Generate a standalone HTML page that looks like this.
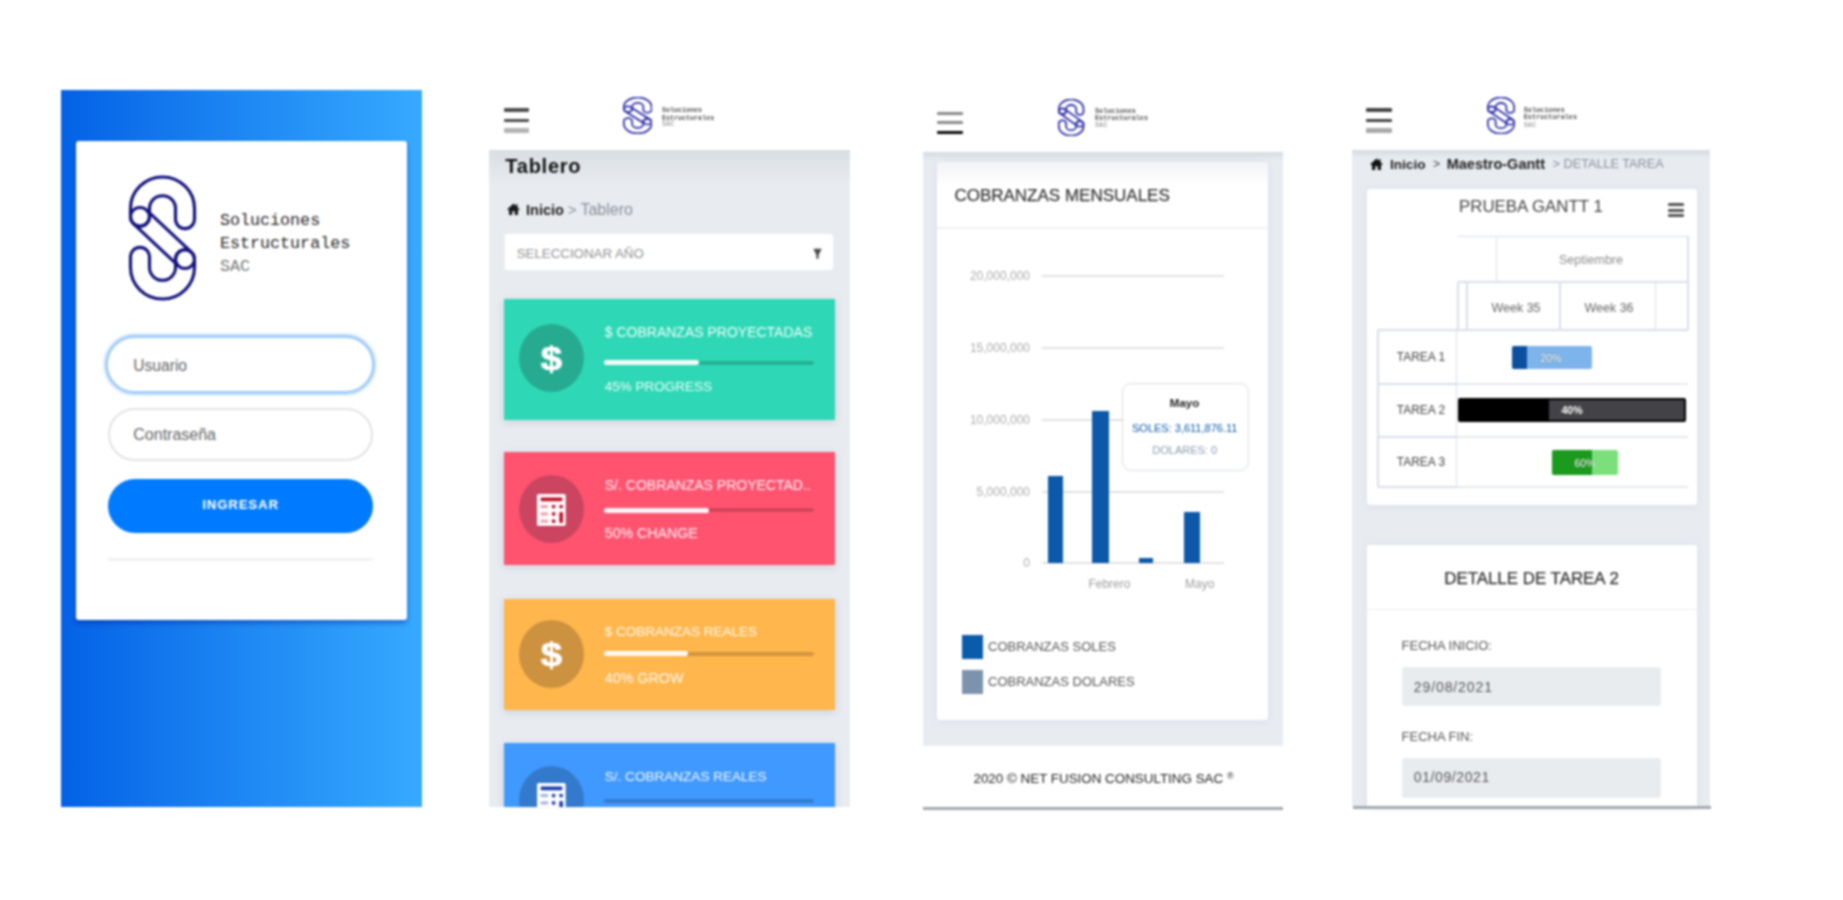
<!DOCTYPE html>
<html lang="es">
<head>
<meta charset="utf-8">
<title>Soluciones Estructurales SAC</title>
<style>
*{box-sizing:border-box;margin:0;padding:0}
html,body{width:1843px;height:900px;background:#fff;overflow:hidden}
body{position:relative;font-family:"Liberation Sans",Arial,sans-serif;color:#333}
#stage{position:absolute;left:0;top:0;width:1843px;height:900px;filter:blur(1px)}
.a{position:absolute}
.t{position:absolute;white-space:nowrap;line-height:1}
.mono{font-family:"Liberation Mono","DejaVu Sans Mono",monospace}
.sm{font-weight:bold}

/* phone 1 */
#p1{left:61px;top:90px;width:360.6px;height:716.8px;background:linear-gradient(90deg,#0461e6 0%,#1d87f3 50%,#37aaff 100%)}
#p1card{left:14.5px;top:50.5px;width:331px;height:479px;background:#fff;border-radius:3px;box-shadow:0 3px 5px rgba(0,30,140,.45)}
.pill{position:absolute;border-radius:40px;background:#fff}
/* dashboards */
.gray{background:#e8ecf1}
.hb{position:absolute;height:4px;border-radius:1px}
.card{position:absolute;left:504.2px;width:330.8px;box-shadow:0 2px 8px rgba(80,90,110,.18)}
.circ{position:absolute;border-radius:50%}
.ct{position:absolute;white-space:nowrap;line-height:1;color:rgba(255,255,255,.93);font-size:14px;left:100.6px}
.trk{position:absolute;left:100px;width:209.6px;height:4px;background:rgba(0,0,0,.18);border-radius:2px}
.fil{position:absolute;left:0;top:-.5px;height:5px;background:#fff;border-radius:3px;opacity:.95}
.wcard{position:absolute;background:#fff;border-radius:3px;box-shadow:0 1px 9px rgba(70,90,130,.08)}
.gl{position:absolute;height:2px;background:#e2e2e2;left:1042px;width:182px}
.yl{position:absolute;white-space:nowrap;line-height:1;font-size:12px;color:#adadad;text-align:right;width:70px;left:960px}
.bar{position:absolute;background:#0b59a8}
.ln{position:absolute;background:#e4e7ee}
</style>
</head>
<body>
<div id="stage">

<!-- ================= PHONE 1 : LOGIN ================= -->
<div id="p1" class="a">
  <div id="p1card" class="a">
    <svg class="a" style="left:52.5px;top:34.3px" width="69" height="126" viewBox="-1.5 -1.5 69 128" preserveAspectRatio="none" fill="none" stroke="#12127c" stroke-width="3.1">
      <g id="hook"><path d="M65,43.5 L65,32.5 A32,32 0 0 0 1,32.5 L1,41 A9.5,9.5 0 0 0 20,41 L20,32.5 A13,13 0 0 1 46,32.5 L46,43.5 A9.5,9.5 0 0 0 65,43.5 Z"/></g>
      <g transform="rotate(180 33 62.5)"><path d="M65,43.5 L65,32.5 A32,32 0 0 0 1,32.5 L1,41 A9.5,9.5 0 0 0 20,41 L20,32.5 A13,13 0 0 1 46,32.5 L46,43.5 A9.5,9.5 0 0 0 65,43.5 Z"/></g>
      <circle cx="10.5" cy="41" r="9.5"/><circle cx="55.5" cy="84" r="9.5"/>
      <path d="M3.9,47.9 L48.9,90.9 M17.1,34.1 L62.1,77.1"/>
    </svg>
    <div class="t mono" style="left:144.5px;top:72.2px;font-size:16.7px;color:#2a2a2a">Soluciones</div>
    <div class="t mono" style="left:144.5px;top:95.2px;font-size:16.7px;color:#2a2a2a">Estructurales</div>
    <div class="t mono" style="left:144.5px;top:118.7px;font-size:16.7px;color:#777">SAC</div>

    <div class="pill" style="left:29.5px;top:194.5px;width:270px;height:58.5px;border:3px solid #a5cdf6;box-shadow:0 0 3px 1px rgba(140,195,250,.55)"></div>
    <div class="t" style="left:57.8px;top:217.1px;font-size:15.6px;color:#666">Usuario</div>
    <div class="pill" style="left:32.5px;top:267px;width:265px;height:53px;border:2px solid #e3e3e3"></div>
    <div class="t" style="left:57.8px;top:286px;font-size:16px;color:#666">Contraseña</div>
    <div class="pill" style="left:32.5px;top:338px;width:265px;height:54.5px;background:#007bff"></div>
    <div class="t" style="left:32.5px;top:357.5px;width:265px;text-align:center;font-size:13px;font-weight:bold;letter-spacing:1px;color:#fff">INGRESAR</div>
    <div class="a" style="left:32.5px;top:417.5px;width:265px;height:2.5px;background:#f2f2f2"></div>
  </div>
</div>

<!-- ================= PHONE 2 : TABLERO ================= -->
<div class="hb" style="left:504px;width:25.3px;top:108.4px;height:3.2px;background:#4d4d4d"></div>
<div class="hb" style="left:504px;width:25.3px;top:119.1px;height:3.2px;background:#4d4d4d"></div>
<div class="hb" style="left:504px;width:25.3px;top:127.8px;height:5px;background:#b4b4b4"></div>
<svg class="a" style="left:623px;top:97px" width="29.4" height="36.8" viewBox="-1 -1 68 127" preserveAspectRatio="none" fill="none" stroke="#3333aa" stroke-width="1.8">
  <path vector-effect="non-scaling-stroke" d="M65,43.5 L65,32.5 A32,32 0 0 0 1,32.5 L1,41 A9.5,9.5 0 0 0 20,41 L20,32.5 A13,13 0 0 1 46,32.5 L46,43.5 A9.5,9.5 0 0 0 65,43.5 Z"/>
  <path vector-effect="non-scaling-stroke" transform="rotate(180 33 62.5)" d="M65,43.5 L65,32.5 A32,32 0 0 0 1,32.5 L1,41 A9.5,9.5 0 0 0 20,41 L20,32.5 A13,13 0 0 1 46,32.5 L46,43.5 A9.5,9.5 0 0 0 65,43.5 Z"/>
  <circle vector-effect="non-scaling-stroke" cx="10.5" cy="41" r="9.5"/><circle vector-effect="non-scaling-stroke" cx="55.5" cy="84" r="9.5"/>
  <path vector-effect="non-scaling-stroke" d="M3.9,47.9 L48.9,90.9 M17.1,34.1 L62.1,77.1"/>
</svg><div class="t mono sm" style="left:662px;top:107.4px;font-size:6.7px;color:#555">Soluciones</div>
<div class="t mono sm" style="left:662px;top:114.7px;font-size:6.7px;color:#555">Estructurales</div>
<div class="t mono sm" style="left:662px;top:121.4px;font-size:6.7px;color:#aaa">SAC</div>
<div class="a gray" style="left:489.3px;top:149.8px;width:360.7px;height:657.6px;overflow:hidden">
  <div class="a" style="left:0;top:0;width:100%;height:34px;background:linear-gradient(rgba(90,100,90,.10),rgba(90,100,90,0))"></div>
</div>
<div class="t" style="left:505.3px;top:156.4px;font-size:20px;font-weight:bold;letter-spacing:.75px;color:#111">Tablero</div>
<svg class="a" style="left:507px;top:203.3px" width="13" height="12.5" viewBox="0 0 26 25"><path fill="#1a1a1a" d="M13 1 L0.5 12.5 L3 14.5 L4 13.6 V24 H10.5 V16.5 H15.5 V24 H22 V13.6 L23 14.5 L25.5 12.5 L21 8.3 V2.5 H18 V5.6 Z"/></svg><div class="t" style="left:526px;top:202px;font-size:14.5px;color:#8a8f96"><b style="color:#222">Inicio</b>&nbsp;&gt; <span style="font-size:16px">Tablero</span></div>
<div class="a" style="left:504.8px;top:234.4px;width:328.2px;height:35.6px;background:#fff;border-radius:2px"></div>
<div class="t" style="left:516.7px;top:247.2px;font-size:13.3px;color:#939393">SELECCIONAR AÑO</div>
<svg class="a" style="left:812.6px;top:248.2px" width="9" height="11.5" viewBox="0 0 9 11.5"><path d="M0.3 0.8 H8.7 L5.6 7 V10.8 H3.4 V7 Z" fill="#4a4a4a"/></svg>
<div class="card" style="top:298.9px;height:121.1px;background:#2ed8b6;overflow:hidden">
  <div class="circ" style="left:14.6px;top:25.4px;width:65px;height:68px;background:#26ab91"></div>
  <div class="t" style="left:14.7px;top:43.4px;width:64.6px;text-align:center;font-size:33px;font-weight:bold;color:#fff;-webkit-text-stroke:.7px #fff;transform:scaleX(1.16)">$</div>
  <div class="ct" style="top:26.5px">$ COBRANZAS PROYECTADAS</div>
  <div class="trk" style="top:62.1px"><div class="fil" style="width:45%"></div></div>
  <div class="ct" style="top:80.8px;font-size:13.5px">45% PROGRESS</div>
</div>
<div class="card" style="top:452.2px;height:112.8px;background:#ff5370;overflow:hidden">
  <div class="circ" style="left:14.6px;top:22.8px;width:65px;height:68px;background:#cb4560"></div>
  <svg class="a" style="left:33px;top:42.0px" width="29.2" height="32.6" viewBox="0 0 29 32.5"><rect x="0.6" y="0.6" width="29" height="32.5" rx="1.6" fill="#c20f2c" opacity=".55"/><rect x="0" y="0" width="28.6" height="32" rx="1.6" fill="#fff"/><g fill="#c20f2c"><rect x="3.6" y="3.4" width="21.6" height="3.8" rx="1"/><g opacity=".38"><rect x="3.5" y="11" width="7.5" height="3"/><rect x="3.5" y="18.4" width="7.5" height="3"/><rect x="3.5" y="25.6" width="7.5" height="3"/></g><circle cx="16.5" cy="12.5" r="1.9"/><circle cx="16.5" cy="19.9" r="1.9"/><circle cx="16.5" cy="27.1" r="1.9"/><circle cx="24" cy="12.5" r="1.9"/><rect x="22.2" y="17.6" width="3.7" height="11.6" rx="1.8"/></g></svg>
  <div class="ct" style="top:26px">S/. COBRANZAS PROYECTAD..</div>
  <div class="trk" style="top:56.3px"><div class="fil" style="width:50%"></div></div>
  <div class="ct" style="top:74.2px;font-size:14.2px">50% CHANGE</div>
</div>
<div class="card" style="top:598.9px;height:111.1px;background:#ffb64d;overflow:hidden">
  <div class="circ" style="left:14.6px;top:21.0px;width:65px;height:68px;background:#cc923f"></div>
  <div class="t" style="left:14.7px;top:38.9px;width:64.6px;text-align:center;font-size:33px;font-weight:bold;color:#fff;-webkit-text-stroke:.7px #fff;transform:scaleX(1.16)">$</div>
  <div class="ct" style="top:26.2px;font-size:13.5px">$ COBRANZAS REALES</div>
  <div class="trk" style="top:53.1px"><div class="fil" style="width:40%"></div></div>
  <div class="ct" style="top:72px;font-size:14.3px">40% GROW</div>
</div>
<div class="card" style="top:743.2px;height:64.2px;background:#4099ff;overflow:hidden;clip-path:inset(-12px -12px 0 -12px)">
  <div class="circ" style="left:14.6px;top:22.6px;width:65px;height:68px;background:#337acc"></div>
  <svg class="a" style="left:33px;top:40.2px" width="29.2" height="32.6" viewBox="0 0 29 32.5"><rect x="0.6" y="0.6" width="29" height="32.5" rx="1.6" fill="#1b3cae" opacity=".55"/><rect x="0" y="0" width="28.6" height="32" rx="1.6" fill="#fff"/><g fill="#1b3cae"><rect x="3.6" y="3.4" width="21.6" height="3.8" rx="1"/><g opacity=".38"><rect x="3.5" y="11" width="7.5" height="3"/><rect x="3.5" y="18.4" width="7.5" height="3"/><rect x="3.5" y="25.6" width="7.5" height="3"/></g><circle cx="16.5" cy="12.5" r="1.9"/><circle cx="16.5" cy="19.9" r="1.9"/><circle cx="16.5" cy="27.1" r="1.9"/><circle cx="24" cy="12.5" r="1.9"/><rect x="22.2" y="17.6" width="3.7" height="11.6" rx="1.8"/></g></svg>
  <div class="ct" style="top:26.5px;font-size:13.55px">S/. COBRANZAS REALES</div>
  <div class="trk" style="top:55.6px"></div>
  <div class="ct" style="top:75px;font-size:13.5px">30% SALES</div>
</div>

<!-- ================= PHONE 3 : COBRANZAS MENSUALES ================= -->
<div class="hb" style="left:936.7px;width:26.6px;top:111.8px;height:3px;background:#8a8a8a"></div>
<div class="hb" style="left:936.7px;width:26.6px;top:120.9px;height:3px;background:#8a8a8a"></div>
<div class="hb" style="left:936.7px;width:26.6px;top:130.6px;height:3.6px;background:#0a0a0a"></div>
<svg class="a" style="left:1058.4px;top:98.8px" width="26.3" height="37.2" viewBox="-1 -1 68 127" preserveAspectRatio="none" fill="none" stroke="#3333aa" stroke-width="1.8">
  <path vector-effect="non-scaling-stroke" d="M65,43.5 L65,32.5 A32,32 0 0 0 1,32.5 L1,41 A9.5,9.5 0 0 0 20,41 L20,32.5 A13,13 0 0 1 46,32.5 L46,43.5 A9.5,9.5 0 0 0 65,43.5 Z"/>
  <path vector-effect="non-scaling-stroke" transform="rotate(180 33 62.5)" d="M65,43.5 L65,32.5 A32,32 0 0 0 1,32.5 L1,41 A9.5,9.5 0 0 0 20,41 L20,32.5 A13,13 0 0 1 46,32.5 L46,43.5 A9.5,9.5 0 0 0 65,43.5 Z"/>
  <circle vector-effect="non-scaling-stroke" cx="10.5" cy="41" r="9.5"/><circle vector-effect="non-scaling-stroke" cx="55.5" cy="84" r="9.5"/>
  <path vector-effect="non-scaling-stroke" d="M3.9,47.9 L48.9,90.9 M17.1,34.1 L62.1,77.1"/>
</svg><div class="t mono sm" style="left:1095px;top:107.9px;font-size:6.8px;color:#555">Soluciones</div>
<div class="t mono sm" style="left:1095px;top:115.1px;font-size:6.8px;color:#555">Estructurales</div>
<div class="t mono sm" style="left:1095px;top:121.9px;font-size:6.8px;color:#aaa">SAC</div>
<div class="a gray" style="left:922.5px;top:152.2px;width:360.5px;height:593.5px">
  <div class="a" style="left:0;top:0;width:100%;height:8px;background:linear-gradient(rgba(60,70,90,.10),rgba(60,70,90,0))"></div>
</div>
<div class="wcard" style="left:936.6px;top:162px;width:331.8px;height:558px;background:linear-gradient(#f3f4f6,#fff 22px)"></div>
<div class="a" style="left:937px;top:227px;width:331px;height:1.6px;background:#f0f1f4"></div>
<div class="t" style="left:954.4px;top:187.4px;font-size:17px;color:#383838;-webkit-text-stroke:.25px #383838">COBRANZAS MENSUALES</div>
<div class="gl" style="top:274.6px"></div><div class="yl" style="top:269.7px">20,000,000</div>
<div class="gl" style="top:346.6px"></div><div class="yl" style="top:341.7px">15,000,000</div>
<div class="gl" style="top:418.6px"></div><div class="yl" style="top:413.7px">10,000,000</div>
<div class="gl" style="top:490.6px"></div><div class="yl" style="top:485.7px">5,000,000</div>
<div class="gl" style="top:562.0px"></div><div class="yl" style="top:557.1px">0</div>
<div class="bar" style="left:1047.5px;width:15.2px;top:475.5px;height:87.7px"></div>
<div class="bar" style="left:1092px;width:16.8px;top:410.7px;height:152.5px"></div>
<div class="bar" style="left:1138.7px;width:14.6px;top:558px;height:5.2px"></div>
<div class="bar" style="left:1184px;width:15.5px;top:511.5px;height:51.7px"></div>
<div class="t" style="left:1009.4px;width:200px;text-align:center;top:578.3px;font-size:12px;color:#a0a0a0;">Febrero</div>
<div class="t" style="left:1099.7px;width:200px;text-align:center;top:578.3px;font-size:12px;color:#a0a0a0;">Mayo</div>
<div class="a" style="left:1121.5px;top:383px;width:127.5px;height:87.7px;background:rgba(255,255,255,.9);border:1.8px solid #d9dde3;border-radius:9px"></div>
<div class="t" style="left:1084.5px;width:200px;text-align:center;top:398.4px;font-size:11.5px;color:#222;font-weight:bold">Mayo</div>
<div class="t" style="left:1084.7px;width:200px;text-align:center;top:422.6px;font-size:11px;color:#0b59a8;">SOLES: 3,611,876.11</div>
<div class="t" style="left:1084.7px;width:200px;text-align:center;top:444.6px;font-size:11px;color:#8a9bb0;">DOLARES: 0</div>
<div class="a" style="left:962.4px;top:634.5px;width:21px;height:24.3px;background:#0b5bab"></div>
<div class="a" style="left:962.4px;top:669.8px;width:21px;height:24.2px;background:#7d93ad"></div>
<div class="t" style="left:988px;top:640.4px;font-size:13px;color:#555;">COBRANZAS SOLES</div>
<div class="t" style="left:988px;top:675.4px;font-size:13px;color:#555;">COBRANZAS DOLARES</div>
<div class="t" style="left:933.5px;width:340px;text-align:center;top:771.5px;font-size:13.4px;color:#222;">2020 © NET FUSION CONSULTING SAC <span style="font-size:9px;position:relative;top:-4px">®</span></div>
<div class="a" style="left:922.5px;top:806.8px;width:360.5px;height:2.8px;background:#a3a8af"></div>

<!-- ================= PHONE 4 : GANTT ================= -->
<div class="hb" style="left:1365.6px;width:26.6px;top:108.4px;height:3.2px;background:#444"></div>
<div class="hb" style="left:1365.6px;width:26.6px;top:119.1px;height:3.2px;background:#444"></div>
<div class="hb" style="left:1365.6px;width:26.6px;top:127.8px;height:5px;background:#aaa"></div>
<svg class="a" style="left:1486.7px;top:96.8px" width="28" height="37.2" viewBox="-1 -1 68 127" preserveAspectRatio="none" fill="none" stroke="#3333aa" stroke-width="1.8">
  <path vector-effect="non-scaling-stroke" d="M65,43.5 L65,32.5 A32,32 0 0 0 1,32.5 L1,41 A9.5,9.5 0 0 0 20,41 L20,32.5 A13,13 0 0 1 46,32.5 L46,43.5 A9.5,9.5 0 0 0 65,43.5 Z"/>
  <path vector-effect="non-scaling-stroke" transform="rotate(180 33 62.5)" d="M65,43.5 L65,32.5 A32,32 0 0 0 1,32.5 L1,41 A9.5,9.5 0 0 0 20,41 L20,32.5 A13,13 0 0 1 46,32.5 L46,43.5 A9.5,9.5 0 0 0 65,43.5 Z"/>
  <circle vector-effect="non-scaling-stroke" cx="10.5" cy="41" r="9.5"/><circle vector-effect="non-scaling-stroke" cx="55.5" cy="84" r="9.5"/>
  <path vector-effect="non-scaling-stroke" d="M3.9,47.9 L48.9,90.9 M17.1,34.1 L62.1,77.1"/>
</svg><div class="t mono sm" style="left:1523.7px;top:106.9px;font-size:6.85px;color:#555">Soluciones</div>
<div class="t mono sm" style="left:1523.7px;top:114.4px;font-size:6.85px;color:#555">Estructurales</div>
<div class="t mono sm" style="left:1523.7px;top:121.6px;font-size:6.85px;color:#aaa">SAC</div>
<div class="a gray" style="left:1352.2px;top:149.8px;width:357.8px;height:656.5px;background:#e8ecf1">
  <div class="a" style="left:0;top:0;width:100%;height:8px;background:linear-gradient(rgba(60,70,90,.10),rgba(60,70,90,0))"></div>
</div>
<svg class="a" style="left:1369.5px;top:158px" width="13" height="12.5" viewBox="0 0 26 25"><path fill="#111" d="M13 1 L0.5 12.5 L3 14.5 L4 13.6 V24 H10.5 V16.5 H15.5 V24 H22 V13.6 L23 14.5 L25.5 12.5 L21 8.3 V2.5 H18 V5.6 Z"/></svg><div class="t" style="left:1390px;top:157.6px;font-size:13.6px;color:#222;"><b style="color:#222">Inicio</b></div>
<div class="t" style="left:1433px;top:158.3px;font-size:12px;color:#444;">&gt;</div>
<div class="t" style="left:1446.7px;top:157.1px;font-size:14.5px;color:#222;"><b>Maestro-Gantt</b></div>
<div class="t" style="left:1552.6px;top:158.1px;font-size:12.7px;color:#8a9099;">&gt; DETALLE TAREA</div>
<div class="wcard" style="left:1366.5px;top:188.5px;width:330.5px;height:316px"></div>
<div class="t" style="left:1459px;top:199.3px;font-size:16.85px;color:#444">PRUEBA GANTT 1</div>
<div class="a" style="left:1667.8px;top:203.0px;width:16.6px;height:3px;background:#555;border-radius:1px"></div>
<div class="a" style="left:1667.8px;top:208.5px;width:16.6px;height:3px;background:#555;border-radius:1px"></div>
<div class="a" style="left:1667.8px;top:214.0px;width:16.6px;height:3px;background:#555;border-radius:1px"></div>
<div class="ln" style="left:1458px;top:235.9px;width:230.5px;height:1.6px;background:#d9dfea"></div>
<div class="ln" style="left:1458px;top:281.4px;width:230.5px;height:1.6px;background:#d9dfea"></div>
<div class="ln" style="left:1377.8px;top:329.2px;width:310.7px;height:1.6px;background:#d9dfea"></div>
<div class="ln" style="left:1495.7px;top:236.7px;width:1.6px;height:45.5px;background:#d9dfea"></div>
<div class="ln" style="left:1687.2px;top:236.7px;width:1.6px;height:93.3px;background:#d9dfea"></div>
<div class="ln" style="left:1457.4px;top:282.2px;width:1.6px;height:47.8px;background:#d9dfea"></div>
<div class="ln" style="left:1466.2px;top:282.2px;width:1.6px;height:47.8px;background:#d9dfea"></div>
<div class="ln" style="left:1559.2px;top:282.2px;width:1.6px;height:47.8px;background:#d9dfea"></div>
<div class="ln" style="left:1654.8px;top:282.2px;width:1.6px;height:47.8px;background:#d9dfea"></div>
<div class="ln" style="left:1377.0px;top:330px;width:1.6px;height:157.0px;background:#d9dfea"></div>
<div class="ln" style="left:1455.9px;top:330px;width:1.6px;height:157.0px;background:#d9dfea"></div>
<div class="ln" style="left:1377.8px;top:383.2px;width:78.9px;height:1.6px;background:#d9dfea"></div>
<div class="ln" style="left:1377.8px;top:436.2px;width:78.9px;height:1.6px;background:#d9dfea"></div>
<div class="ln" style="left:1377.8px;top:486.2px;width:78.9px;height:1.6px;background:#d9dfea"></div>
<div class="ln" style="left:1456.7px;top:383.2px;width:231.3px;height:1.6px;background:#e6e9f0"></div>
<div class="ln" style="left:1456.7px;top:436.2px;width:231.3px;height:1.6px;background:#e6e9f0"></div>
<div class="ln" style="left:1456.7px;top:486.2px;width:231.3px;height:1.6px;background:#e6e9f0"></div>
<div class="t" style="left:1491.0px;width:200px;text-align:center;top:253.9px;font-size:12.5px;color:#8c8c8c;">Septiembre</div>
<div class="t" style="left:1416.0px;width:200px;text-align:center;top:301.9px;font-size:12.5px;color:#666;">Week 35</div>
<div class="t" style="left:1509.0px;width:200px;text-align:center;top:301.9px;font-size:12.5px;color:#666;">Week 36</div>
<div class="t" style="left:1396.7px;top:350.8px;font-size:12px;color:#444;">TAREA 1</div>
<div class="t" style="left:1396.7px;top:403.9px;font-size:12px;color:#444;">TAREA 2</div>
<div class="t" style="left:1396.7px;top:456.3px;font-size:12px;color:#444;">TAREA 3</div>
<div class="a" style="left:1512px;top:346px;width:80px;height:22.6px;background:#7db4eb;border-radius:2px;overflow:hidden"><div class="a" style="left:0;top:0;width:15px;height:100%;background:#0c4f9e"></div></div>
<div class="t" style="left:1521.0px;width:60px;text-align:center;top:352.5px;font-size:10.5px;color:#fff;text-shadow:0 0 1.5px #4a607a">20%</div>
<div class="a" style="left:1458.4px;top:398px;width:227.2px;height:23.6px;background:#434347;border:2px solid #000;border-radius:2px;overflow:hidden"><div class="a" style="left:0;top:0;width:89px;height:100%;background:#000"></div></div>
<div class="t" style="left:1542.0px;width:60px;text-align:center;top:405.4px;font-size:10.5px;color:#fff;font-weight:bold">40%</div>
<div class="a" style="left:1552px;top:450.4px;width:65.6px;height:24.6px;background:#7be07c;border-radius:2px;overflow:hidden"><div class="a" style="left:0;top:0;width:40px;height:100%;background:#1b9a1d"></div></div>
<div class="t" style="left:1555.0px;width:60px;text-align:center;top:458.1px;font-size:10.5px;color:#fff;text-shadow:0 0 1.5px #3a6a3a">60%</div>
<div class="wcard" style="left:1366.5px;top:545px;width:330.5px;height:262px;border-radius:3px 3px 0 0"></div>
<div class="t" style="left:1381.5px;width:300px;text-align:center;top:570.7px;font-size:16.9px;color:#333;-webkit-text-stroke:.25px #333">DETALLE DE TAREA 2</div>
<div class="a" style="left:1366.5px;top:608.5px;width:330.5px;height:1.6px;background:#eef0f3"></div>
<div class="t" style="left:1401.6px;top:639.3px;font-size:13px;color:#555;">FECHA INICIO:</div>
<div class="a" style="left:1401.6px;top:667.3px;width:259.4px;height:38.7px;background:#e9ecef;border-radius:3px"></div>
<div class="t" style="left:1413.8px;top:679.8px;font-size:14px;color:#555;letter-spacing:.9px">29/08/2021</div>
<div class="t" style="left:1401.6px;top:730.2px;font-size:13px;color:#555;">FECHA FIN:</div>
<div class="a" style="left:1401.6px;top:757.5px;width:259.4px;height:40.3px;background:#e9ecef;border-radius:3px"></div>
<div class="t" style="left:1413.8px;top:770.1px;font-size:14px;color:#555;letter-spacing:.6px">01/09/2021</div>
<div class="a" style="left:1352.5px;top:806px;width:358.5px;height:3px;background:#a3a8af"></div>


</div>
</body>
</html>
